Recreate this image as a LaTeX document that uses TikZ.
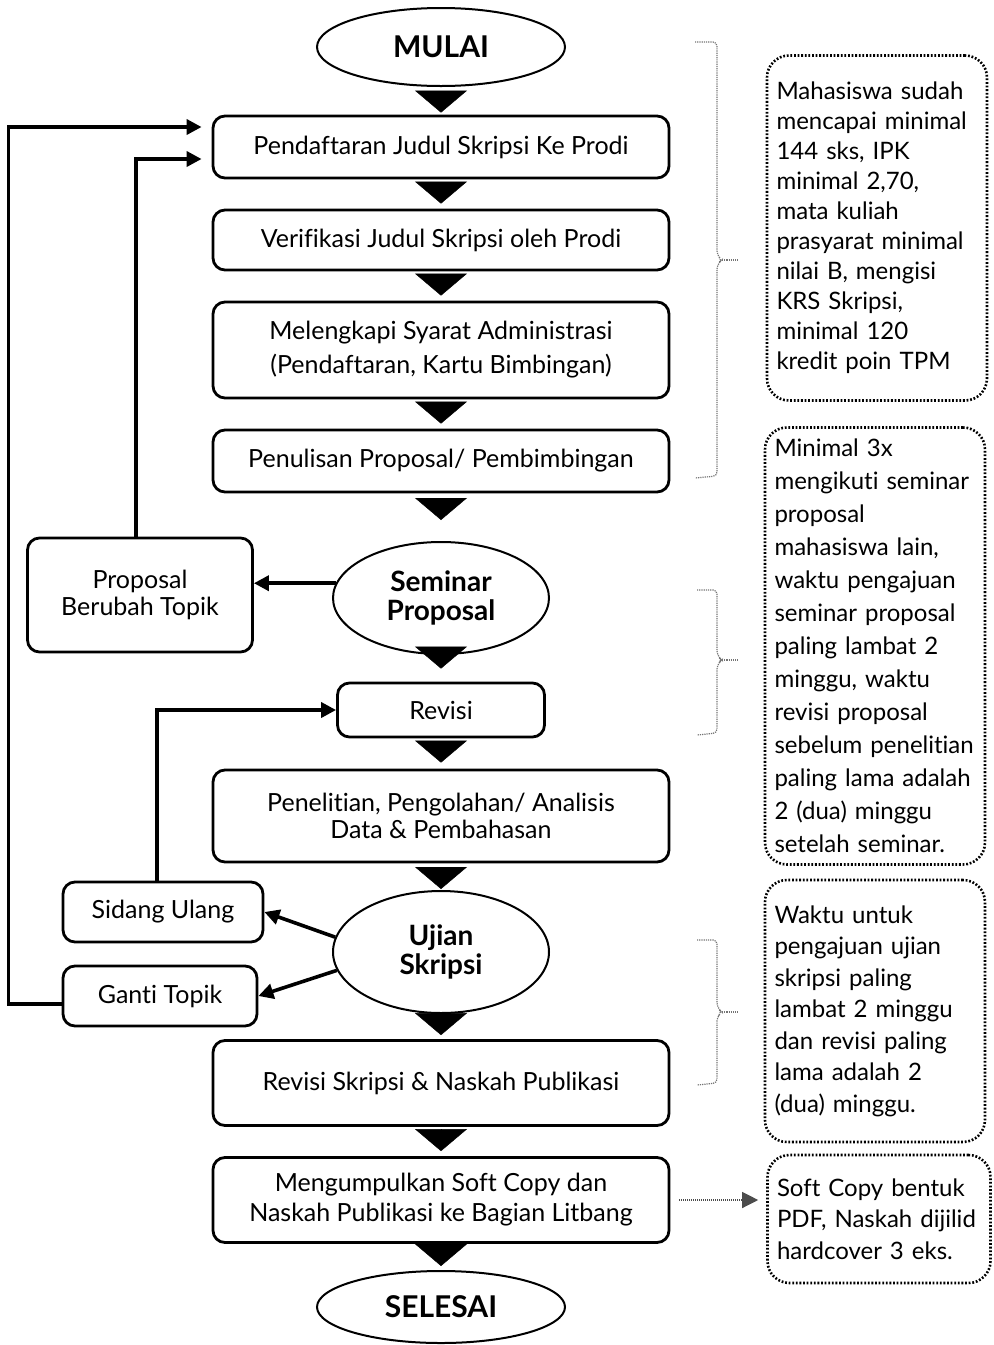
\documentclass[tikz,border=0pt]{standalone}
\usepackage{fontspec}
\setmainfont{Lato}[Ligatures=NoCommon]
\usepackage{tikz}
\usetikzlibrary{arrows.meta}
\usetikzlibrary{shapes.geometric}

\begin{document}
\begin{tikzpicture}[x=0.5pt,y=-0.5pt,
        font=\fontsize{12.5}{15.5}\selectfont,
        box/.style={draw=black,line width=1.4pt,rounded corners=6pt,fill=white,align=center,inner sep=2pt,minimum width=228pt},
        oval/.style={ellipse,draw=black,line width=1pt,fill=white,align=center,inner sep=0pt,
            font=\fontsize{14}{14.5}\selectfont\bfseries},
        note/.style={draw=black,line width=1.3pt,dash pattern=on 0.9pt off 0.9pt,rounded corners=11pt,
            align=left,text width=100.5pt,inner xsep=4.75pt,font=\fontsize{12}{15.75}\selectfont},
        flow/.style={-{Triangle[width=26pt,length=11pt]},line width=0.2pt,shorten <=2.5pt,shorten >=2.5pt},
        link/.style={-{Triangle[width=7.5pt,length=7.5pt]},line width=1.8pt},
        brace/.style={draw=black!55,line width=0.6pt,dash pattern=on 0.6pt off 0.5pt,rounded corners=2pt}]

        \useasboundingbox (0,0) rectangle (993,1345);

        % Main column
        \node[oval,minimum width=124pt,minimum height=39pt,font=\fontsize{15}{15}\selectfont\bfseries] (mulai) at (441,47) {MULAI};
        \node[box,minimum height=31pt] (daftar) at (441,147) {Pendaftaran Judul Skripsi Ke Prodi};
        \node[box,minimum height=30pt] (verif) at (441,240) {Verifikasi Judul Skripsi oleh Prodi};
        \node[box,minimum height=48pt,font=\fontsize{12.5}{17}\selectfont] (syaratadm) at (441,350) {Melengkapi Syarat Administrasi\\(Pendaftaran, Kartu Bimbingan)};
        \node[box,minimum height=31pt] (tulis) at (441,461) {Penulisan Proposal/ Pembimbingan};
        \node[oval,minimum width=108pt,minimum height=56pt] (seminar) at (441,598) {Seminar\\Proposal};
        \node[box,minimum width=103.5pt,minimum height=27pt] (revisi) at (441,710) {Revisi};
        \node[box,minimum height=46pt,font=\fontsize{12.5}{13.5}\selectfont] (teliti) at (441,816) {Penelitian, Pengolahan/ Analisis\\Data \& Pembahasan};
        \node[oval,minimum width=108pt,minimum height=61pt] (ujian) at (441,952) {Ujian\\Skripsi};
        \node[box,minimum height=42.5pt] (revskripsi) at (441,1083) {Revisi Skripsi \& Naskah Publikasi};
        \node[box,minimum height=42.5pt,font=\fontsize{12.5}{15}\selectfont] (kumpul) at (441,1200) {Mengumpulkan Soft Copy dan\\Naskah Publikasi ke Bagian Litbang};
        \node[oval,minimum width=124pt,minimum height=36pt,font=\fontsize{15}{15}\selectfont\bfseries] (selesai) at (441,1307) {SELESAI};

        % Side boxes
        \node[box,minimum width=112.5pt,minimum height=57pt,font=\fontsize{12.5}{13.5}\selectfont] (berubah) at (140,595) {Proposal\\Berubah Topik};
        \node[box,minimum width=100pt,minimum height=30pt] (sidang) at (163,912) {Sidang Ulang};
        \node[box,minimum width=97pt,minimum height=30pt] (ganti) at (160,996) {Ganti Topik};

        % Notes
        \node[note,minimum height=172.5pt,font=\fontsize{12}{15}\selectfont] (syarat) at (877,228) {Mahasiswa sudah\\mencapai minimal\\144 sks, IPK\\minimal 2,70,\\mata kuliah\\prasyarat minimal\\nilai B, mengisi\\KRS Skripsi,\\minimal 120\\kredit poin TPM};
        \node[note,minimum height=218.5pt,font=\fontsize{12}{16.5}\selectfont] (ketsem) at (875,646) {Minimal 3x\\mengikuti seminar\\proposal\\mahasiswa lain,\\waktu pengajuan\\seminar proposal\\paling lambat 2\\minggu, waktu\\revisi proposal\\sebelum penelitian\\paling lama adalah\\2 (dua) minggu\\setelah seminar.};
        \node[note,minimum height=131pt] (ketujian) at (875,1011) {Waktu untuk\\pengajuan ujian\\skripsi paling\\lambat 2 minggu\\dan revisi paling\\lama adalah 2\\(dua) minggu.};
        \node[note,minimum height=64pt,text width=102pt] (bentuk) at (879,1219) {Soft Copy bentuk\\PDF, Naskah dijilid\\hardcover 3 eks.};

        % Flow triangles
        \draw[flow,shorten <=3pt,shorten >=1pt] (mulai) -- (daftar);
        \draw[flow] (daftar) -- (verif);
        \draw[flow] (verif) -- (syaratadm);
        \draw[flow] (syaratadm) -- (tulis);
        \draw[flow,shorten <=3pt,shorten >=10.5pt] (tulis) -- (seminar);
        \draw[flow,shorten <=-3pt,shorten >=6.5pt] (seminar) -- (revisi);
        \draw[flow,shorten <=2.5pt,shorten >=3pt] (revisi) -- (teliti);
        \draw[flow,shorten <=2.5pt,shorten >=0.5pt] (teliti) -- (ujian);
        \draw[flow,shorten <=1pt,shorten >=2pt] (ujian) -- (revskripsi);
        \draw[flow] (revskripsi) -- (kumpul);
        \draw[flow,shorten <=1pt,shorten >=2pt] (kumpul) -- (selesai);

        % Loops back
        \draw[link] (seminar.172) -- (seminar.172 -| berubah.east);
        \draw[link,shorten >=5pt] ([xshift=-2pt]berubah.north) |- ([yshift=-6pt]daftar.west);
        \draw[link,shorten >=5pt] ([yshift=-4pt]ganti.west) -- ++(-26.5pt,0) |- ([yshift=10pt]daftar.west);
        \draw[link] ([xshift=-3pt]sidang.north) |- (revisi.west);
        \draw[link] (ujian.172) -- (sidang.east);
        \draw[link] (ujian.190) -- (ganti.east);

        % Braces
        \draw[brace] (695,42) -- (717,42) -- (717,255) -- (722,260) -- (717,265) -- (717,476) -- (695,478);
        \draw[brace] (722,260) -- (738,260);
        \draw[brace] (697,590) -- (717,590) -- (717,655) -- (722,660) -- (717,665) -- (717,733) -- (697,735);
        \draw[brace] (722,660) -- (738,660);
        \draw[brace] (697,940) -- (717,940) -- (717,1007) -- (722,1012) -- (717,1017) -- (717,1083) -- (697,1085);
        \draw[brace] (722,1012) -- (738,1012);

        % Note link
        \draw[draw=black!70,line width=0.6pt,dash pattern=on 0.5pt off 0.5pt,-{Triangle[width=8pt,length=8pt]},shorten <=4.5pt,shorten >=4pt] (kumpul.east) -- (kumpul.east -| bentuk.west);

\end{tikzpicture}
\end{document}
